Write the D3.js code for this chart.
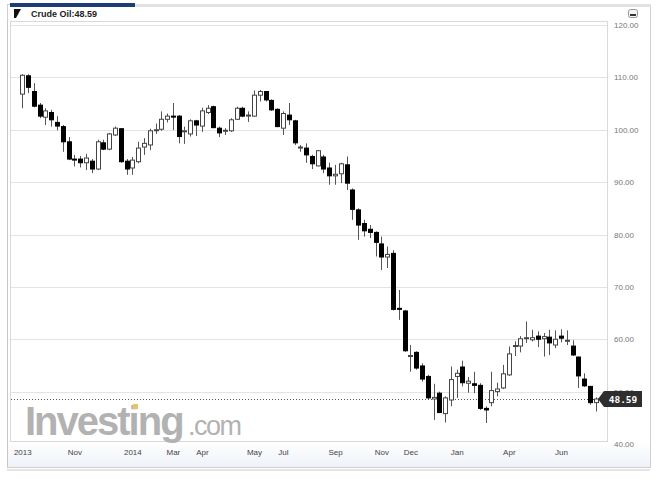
<!DOCTYPE html>
<html><head><meta charset="utf-8">
<script src="https://cdn.jsdelivr.net/npm/d3@7"></script>
<style>
body{margin:0;background:#fff;}
svg{display:block;font-family:"Liberation Sans",Arial,sans-serif;}
</style></head><body>
<svg id="c" width="657" height="482"></svg>
<script>
const title = "Crude Oil:48.59";
const lastPrice = 48.59;
const openV  = [106.8,110.3,107.3,104.7,102.4,103.3,101.4,100.6,97.7,94.4,94.4,93.7,94.0,92.5,97.5,96.3,99.0,100.2,94.0,92.7,93.9,96.7,97.1,99.9,100.1,102.0,102.6,102.6,99.7,99.2,101.7,100.7,103.3,104.4,100.3,99.8,99.8,102.0,104.1,102.7,102.6,106.6,107.3,105.6,103.9,100.3,102.8,101.7,96.6,96.5,94.9,93.1,94.8,92.7,91.2,91.6,93.3,88.5,84.7,82.1,81.0,80.4,78.2,75.7,76.4,65.9,65.4,56.7,57.5,54.9,52.9,48.6,49.7,45.8,48.4,52.9,54.7,51.6,51.5,51.2,46.8,47.9,50.0,50.7,53.2,58.7,58.7,60.2,59.9,60.6,60.1,60.4,58.9,60.6,59.8,58.7,56.6,52.4,51.0,47.9];
const highV  = [110.6,110.6,108.9,105.1,104.1,103.8,102.6,100.9,98.6,95.2,95.0,95.4,94.4,98.1,98.1,99.4,100.6,100.3,94.4,94.8,97.7,98.4,100.2,101.2,103.5,103.1,105.1,102.8,100.6,102.0,101.9,104.2,104.7,104.6,100.6,100.3,102.2,104.4,104.4,103.5,107.5,107.6,107.4,105.8,104.1,103.5,105.1,101.9,97.1,97.4,95.2,96.1,95.2,93.7,93.3,93.7,94.9,88.8,85.0,82.8,81.8,80.6,79.6,77.7,77.0,69.4,65.6,58.9,57.7,55.4,53.2,51.5,50.0,49.1,54.8,54.2,55.9,52.8,53.8,51.6,47.2,53.8,51.7,55.1,58.6,59.6,60.6,63.4,61.8,61.5,61.2,61.8,61.7,61.9,61.7,59.8,56.7,53.5,51.1,48.9];
const lowV   = [104.1,107.0,104.3,102.2,100.9,100.6,99.9,95.8,94.2,93.0,92.8,92.3,91.7,92.3,96.1,96.1,98.8,93.7,91.4,91.4,93.6,95.2,96.1,99.2,99.8,101.4,99.96,97.4,97.3,98.7,98.8,99.6,103.0,100.3,98.6,99.0,99.6,101.9,102.4,101.5,102.5,105.4,105.4,103.6,100.5,99.0,100.9,97.1,95.8,93.7,92.5,93.0,91.7,89.5,89.5,89.8,88.5,82.8,79.0,79.6,79.3,75.8,73.2,73.6,65.5,63.7,57.6,53.8,54.2,51.9,48.4,44.6,45.9,44.1,47.2,48.8,51.0,49.8,49.7,46.5,44.0,47.2,49.1,50.5,53.0,56.8,57.5,59.3,59.6,58.5,56.7,57.0,58.3,59.4,58.9,56.8,50.7,50.9,47.5,46.2];
const closeV = [110.4,108.1,104.5,102.6,103.6,101.9,100.7,97.7,94.4,94.3,93.7,94.6,92.5,97.7,96.3,99.2,100.3,93.9,92.5,94.2,96.5,97.4,99.8,100.0,102.0,102.6,102.5,98.7,99.8,101.7,100.9,103.6,104.1,100.4,99.4,99.9,101.9,104.1,102.6,102.8,106.6,107.3,105.7,103.8,100.6,103.1,101.9,97.5,96.7,95.2,93.5,96.0,92.5,91.2,91.5,93.5,89.8,84.8,81.8,80.7,80.4,78.5,75.7,76.2,65.7,65.8,57.8,56.9,54.5,52.4,48.8,48.9,46.0,48.8,52.3,53.5,51.7,52.0,51.2,46.8,46.5,50.2,50.5,53.4,57.2,58.8,60.1,60.3,60.3,60.0,60.5,59.3,60.0,60.2,59.8,57.0,53.0,51.1,47.9,48.59];
const yTicks = [40,50,60,70,80,90,100,110,120];
const xTickIndex  = [0,9,19,26,31,40,45,54,62,67,75,84,93];
const xTickLabels = ["2013","Nov","2014","Mar","Apr","May","Jul","Sep","Nov","Dec","Jan","Apr","Jun"];

const svg = d3.select("#c");
const n = closeV.length;
const candles = d3.range(n).map(i => ({i, o: openV[i], h: highV[i], l: lowV[i], c: closeV[i]}));

const x = d3.scaleLinear().domain([0, n - 1]).range([22.3, 595.7]);
const y = d3.scaleLinear().domain([40, 120]).range([444, 25]);

const P = {l: 10, r: 607, t: 21, b: 441};

// outer frame & shadow
svg.append("rect").attr("x", 7).attr("y", 469).attr("width", 643).attr("height", 2).attr("fill", "#e4e4e4");
svg.append("rect").attr("x", 7.5).attr("y", 4.5).attr("width", 643).attr("height", 463)
  .attr("fill", "#fff").attr("stroke", "#cfcfcf");
// top band
svg.append("rect").attr("x", 135).attr("y", 4).attr("width", 516).attr("height", 3).attr("fill", "#e2e2e2");
svg.append("rect").attr("x", 10).attr("y", 3).attr("width", 125).attr("height", 4).attr("fill", "#1d3c78");
// title icon + text
svg.append("path").attr("d", "M14,9 L21,9 L16,18 L14,18 Z").attr("fill", "#111");
svg.append("text").attr("x", 31).attr("y", 17).attr("font-size", 9).attr("font-weight", "bold")
  .attr("fill", "#222").text(title);
// minimize icon
svg.append("rect").attr("x", 628.5).attr("y", 9.5).attr("width", 9).attr("height", 8).attr("rx", 2)
  .attr("fill", "#f4f4f4").attr("stroke", "#999");
svg.append("rect").attr("x", 630).attr("y", 14).attr("width", 6).attr("height", 2).attr("fill", "#333");

// bottom axis band gradient
const defs = svg.append("defs");
const g1 = defs.append("linearGradient").attr("id", "ab").attr("x1", 0).attr("x2", 0).attr("y1", 0).attr("y2", 1);
g1.append("stop").attr("offset", 0).attr("stop-color", "#ffffff");
g1.append("stop").attr("offset", 1).attr("stop-color", "#eef2f8");
svg.append("rect").attr("x", 8).attr("y", 442).attr("width", 642).attr("height", 25).attr("fill", "url(#ab)");

// plot area
svg.append("rect").attr("x", P.l + 0.5).attr("y", P.t + 0.5).attr("width", P.r - P.l).attr("height", P.b - P.t)
  .attr("fill", "#fff").attr("stroke", "#d9d9d9");
svg.append("line").attr("x1", 7.5).attr("x2", 7.5).attr("y1", 21).attr("y2", 467).attr("stroke", "#c8c8c8");

// grid
svg.append("g").selectAll("line").data(yTicks.filter(v => y(v) > P.t + 2 && y(v) < P.b - 2)).join("line")
  .attr("x1", P.l + 1).attr("x2", P.r)
  .attr("y1", d => Math.round(y(d)) + 0.5).attr("y2", d => Math.round(y(d)) + 0.5)
  .attr("stroke", "#e3e3e3");

// watermark
const wm = svg.append("g").attr("fill", "#b2b2b2");
wm.append("text").attr("x", 25).attr("y", 435).attr("font-size", 40).attr("font-weight", "bold")
  .attr("letter-spacing", -2).text("Investing");
wm.append("text").attr("x", 188).attr("y", 435).attr("font-size", 27)
  .attr("letter-spacing", -1.5).text(".com");
svg.append("rect").attr("x", 133).attr("y", 404).attr("width", 5).attr("height", 5).attr("fill", "#e9c26a");

// last price dotted line
svg.append("line").attr("x1", P.l + 1).attr("x2", 600)
  .attr("y1", Math.round(y(lastPrice)) + 0.5).attr("y2", Math.round(y(lastPrice)) + 0.5)
  .attr("stroke", "#555").attr("stroke-dasharray", "1,2");

// candles
const cw = 5;
const cg = svg.append("g");
cg.selectAll("line.w").data(candles).join("line").attr("class", "w")
  .attr("x1", d => Math.round(x(d.i)) + 0.5).attr("x2", d => Math.round(x(d.i)) + 0.5)
  .attr("y1", d => y(d.h)).attr("y2", d => y(d.l)).attr("stroke", "#555");
cg.selectAll("rect.b").data(candles).join("rect").attr("class", "b")
  .attr("x", d => Math.round(x(d.i)) - 2 + 0.5)
  .attr("y", d => y(Math.max(d.o, d.c)))
  .attr("width", cw - 1)
  .attr("height", d => Math.max(1, Math.abs(y(d.o) - y(d.c))))
  .attr("fill", d => d.c >= d.o ? "#fff" : "#000")
  .attr("stroke", d => d.c >= d.o ? "#444" : "#000");

// right axis
const ya = svg.append("g").attr("transform", `translate(${612},0)`)
  .call(d3.axisRight(y).tickValues(yTicks).tickFormat(d3.format(".2f")).tickSize(0).tickPadding(2));
ya.select(".domain").remove();
ya.selectAll("text").attr("font-size", 8).attr("fill", "#777").attr("font-family", "'Liberation Sans',Arial,sans-serif");

// price tag
const ty = y(lastPrice);
svg.append("path").attr("d", `M598,${ty} L604,${ty - 8} L642,${ty - 8} L642,${ty + 8} L604,${ty + 8} Z`).attr("fill", "#2e2e2e");
svg.append("text").attr("x", 623).attr("y", ty + 3.5).attr("text-anchor", "middle")
  .attr("font-size", 9.5).attr("font-weight", "bold").attr("fill", "#fff")
  .attr("font-family", "'DejaVu Sans Mono',monospace").text(lastPrice.toFixed(2));

// bottom axis labels
const xa = svg.append("g").attr("transform", `translate(0,${447})`)
  .call(d3.axisBottom(x).tickValues(xTickIndex).tickFormat((d, k) => xTickLabels[k]).tickSize(0).tickPadding(2));
xa.select(".domain").remove();
xa.selectAll("text").attr("font-size", 8).attr("fill", "#444").attr("font-family", "'Liberation Sans',Arial,sans-serif");
</script>
</body></html>
